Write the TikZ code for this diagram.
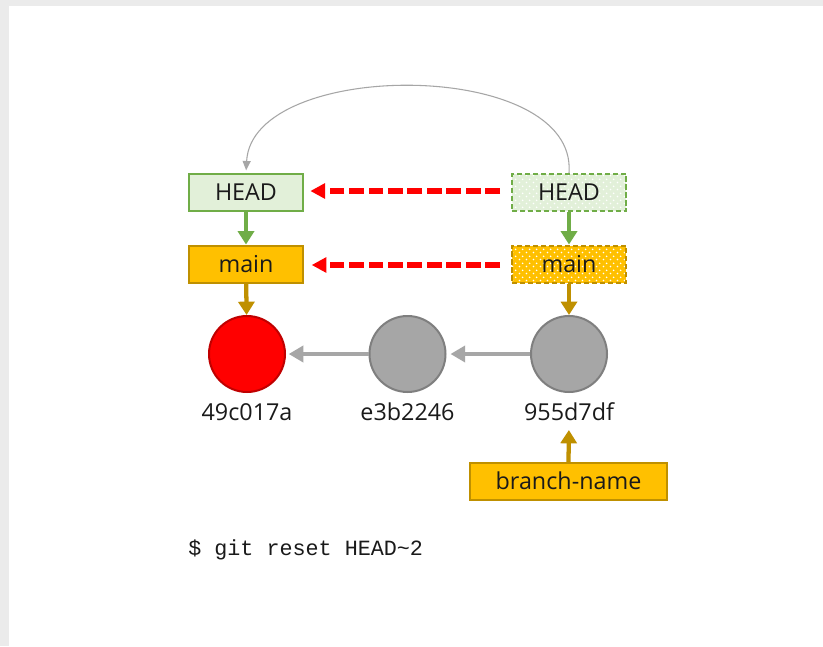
\documentclass[tikz,border=0pt]{standalone}
\usepackage{fontspec}
\setmainfont{Open Sans}
\newfontfamily\monofont{Liberation Mono}
\usetikzlibrary{arrows.meta,patterns.meta}
\definecolor{bggray}{HTML}{EBEBEB}
\definecolor{hgreen}{HTML}{70AD47}
\definecolor{hgreenfill}{HTML}{E2F0D9}
\definecolor{gold}{HTML}{BF9000}
\definecolor{goldfill}{HTML}{FFC000}
\definecolor{cred}{HTML}{FF0000}
\definecolor{credline}{HTML}{C00000}
\definecolor{cgray}{HTML}{A6A6A6}
\definecolor{cgrayline}{HTML}{7F7F7F}
\definecolor{txt}{HTML}{1A1A1A}
\tikzdeclarepattern{
  name=wdots,
  type=uncolored,
  bottom left={(0pt,0pt)},
  top right={(5.25pt,5.25pt)},
  tile size={(5.25pt,5.25pt)},
  code={\fill (1.3pt,1.3pt) circle (0.75pt); \fill (3.925pt,3.925pt) circle (0.75pt);}
}
\begin{document}
\begin{tikzpicture}[x=0.75pt,y=-0.75pt,
  every node/.style={text=txt},
  lbl/.style={font=\fontsize{17.5}{20}\selectfont, inner sep=0pt, text height=12.6pt, text depth=0pt},
  refbox/.style={lbl, line width=1.5pt, minimum width=86pt, minimum height=27.75pt},
  headbox/.style={refbox, draw=hgreen, fill=hgreenfill},
  mainbox/.style={refbox, draw=gold, fill=goldfill},
  ghosthead/.style={refbox, draw=hgreen, dash pattern=on 4pt off 2pt, preaction={fill=hgreenfill}, pattern=wdots, pattern color=white},
  ghostmain/.style={refbox, draw=gold, dash pattern=on 4pt off 2pt, preaction={fill=goldfill}, pattern=wdots, pattern color=white},
  commit/.style={circle, minimum size=57pt, inner sep=0pt, line width=1.5pt},
  redcommit/.style={commit, draw=credline, fill=cred},
  graycommit/.style={commit, draw=cgrayline, fill=cgray},
  greenarrow/.style={draw=hgreen, line width=3.2pt, -{Triangle[width=12pt,length=10pt]}},
  goldarrow/.style={draw=gold, line width=3.2pt, -{Triangle[width=12pt,length=10pt]}},
  grayarrow/.style={draw=cgray, line width=3.6pt, -{Triangle[width=12pt,length=11pt]}},
  redarrow/.style={draw=cred, line width=3.8pt, dash pattern=on 11pt off 3.6pt, -{Triangle[width=11pt,length=11pt]}},
  curvearrow/.style={draw=cgray, line width=0.8pt, -{Triangle[width=6pt,length=7pt]}}
]
\useasboundingbox (0,0) rectangle (823,646);
\fill[bggray] (0,0) rectangle (823,646);
\fill[white] (9,6) rectangle (823,646);

\node[headbox] (h1) at (246,192.5) {HEAD};
\node[mainbox] (m1) at (246,264) {main};
\node[ghosthead] (h2) at (569,192.5) {HEAD};
\node[ghostmain] (m2) at (569,264) {main};

\node[redcommit] (c1) at (247,354) {};
\node[graycommit] (c2) at (407.5,354) {};
\node[graycommit] (c3) at (569,354) {};

\node[lbl] (l1) at (247,412) {49c017a};
\node[lbl] (l2) at (407.5,412) {e3b2246};
\node[lbl] (l3) at (569,412) {955d7df};

\node[mainbox, minimum width=148pt] (b) at (568.5,481.5) {branch-name};

\node[anchor=base west, inner sep=0pt, font=\monofont\fontsize{16.3}{19}\selectfont] (cmd) at (188,555) {\$ git reset HEAD\textasciitilde 2};

\draw[greenarrow] (h1) -- (m1);
\draw[greenarrow] (h2) -- (m2);
\draw[goldarrow] (m1) -- (c1);
\draw[goldarrow] (m2) -- (c3);
\draw[goldarrow, shorten >=7pt] (b.north) -- (l3.south);

\draw[grayarrow, shorten >=2pt] (c2) -- (c1);
\draw[grayarrow, shorten >=3pt] (c3) -- (c2);

\draw[redarrow, shorten <=8pt, shorten >=4.5pt] (h2.west |- 0,191) -- (h1.east |- 0,191);
\draw[redarrow, shorten <=8pt, shorten >=5.5pt] (m2.west |- 0,265) -- (m1.east |- 0,265);

\draw[curvearrow, shorten >=2pt] (h2.north) .. controls (578,58) and (252,58) .. (h1.north);
\end{tikzpicture}
\end{document}
